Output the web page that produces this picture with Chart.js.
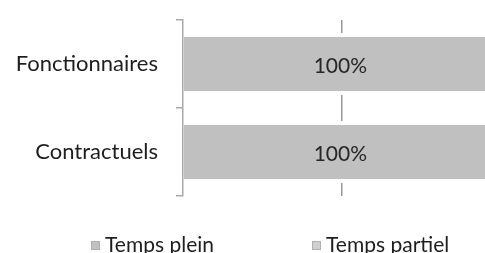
<!DOCTYPE html>
<html>
<head>
<meta charset="utf-8">
<script src="https://cdn.jsdelivr.net/npm/chart.js@4/dist/chart.umd.min.js"></script>
<style>
  html, body { margin: 0; padding: 0; background: #fff; overflow: hidden; }
  #wrap { position: relative; width: 520px; height: 253px; }
  #legend { position: absolute; left: 91px; top: 231px; display: flex; align-items: center;
            font-family: Lato, sans-serif; font-size: 21px; color: #1e1e1e; white-space: nowrap; }
  .item { display: flex; align-items: center; margin-right: 98px; }
  .box { width: 9px; height: 9px; margin-right: 5px; margin-top: 3px; }
</style>
</head>
<body>
<div id="wrap">
  <canvas id="c" width="520" height="253"></canvas>
  <div id="legend"></div>
</div>
<script>
const categories = ["Fonctionnaires", "Contractuels"];
const seriesNames = ["Temps plein", "Temps partiel"];
const tempsPlein = [100, 100];
const tempsPartiel = [0, 0];
const xTicks = [0, 50, 100];

Chart.defaults.font.family = "Lato, sans-serif";

const valueLabels = {
  id: "valueLabels",
  afterDatasetsDraw(chart) {
    const ctx = chart.ctx;
    ctx.save();
    ctx.font = "21px Lato, sans-serif";
    ctx.fillStyle = "#262626";
    ctx.textAlign = "center";
    ctx.textBaseline = "middle";
    chart.data.datasets.forEach((ds, di) => {
      const meta = chart.getDatasetMeta(di);
      meta.data.forEach((el, i) => {
        const v = ds.data[i];
        if (!v) return;
        const p = el.getCenterPoint();
        ctx.fillText(v + "%", p.x - 2, p.y + 2);
      });
    });
    ctx.restore();
  }
};

const chart = new Chart(document.getElementById("c"), {
  type: "bar",
  data: {
    labels: categories,
    datasets: [
      { label: seriesNames[0], data: tempsPlein, backgroundColor: "#c0c0c0",
        borderColor: "#ffffff", borderWidth: { top: 4, bottom: 4, left: 0, right: 0 }, borderSkipped: false,
        barPercentage: 0.705, categoryPercentage: 1 },
      { label: seriesNames[1], data: tempsPartiel, backgroundColor: "#d0d0d0",
        borderColor: "#ffffff", borderWidth: 0,
        barPercentage: 0.705, categoryPercentage: 1 }
    ]
  },
  options: {
    indexAxis: "y",
    responsive: false,
    animation: false,
    events: [],
    layout: { padding: { top: 20, right: 19, bottom: 57, left: 0 } },
    plugins: { legend: { display: false }, tooltip: { enabled: false } },
    scales: {
      x: {
        stacked: true, min: 0, max: 100,
        afterBuildTicks(scale) { scale.ticks = xTicks.map(v => ({ value: v })); },
        afterFit(scale) { scale.height = 0; scale.paddingLeft = 0; scale.paddingRight = 0; },
        ticks: { display: false },
        border: { display: false, dash: [] },
        grid: { drawTicks: false, lineWidth: 1.5,
                color: (c) => (c.tick && c.tick.value === 50) ? "#9a9a9a" : "rgba(0,0,0,0)" }
      },
      y: {
        stacked: true,
        afterFit(scale) { scale.width = 183; scale.paddingTop = 0; scale.paddingBottom = 0; },
        ticks: { color: "#1e1e1e", font: { size: 22 }, padding: 18 },
        border: { display: true, color: "#a8a8a8", width: 1.5 },
        grid: { offset: true, drawOnChartArea: false, drawTicks: true, tickLength: 7,
                color: "#a8a8a8", lineWidth: 1.5 }
      }
    }
  },
  plugins: [valueLabels]
});

const legend = document.getElementById("legend");
chart.data.datasets.forEach(ds => {
  const item = document.createElement("div");
  item.className = "item";
  const box = document.createElement("span");
  box.className = "box";
  box.style.background = ds.backgroundColor;
  box.style.border = "1px solid #b0b0b0";
  box.style.boxSizing = "border-box";
  const t = document.createElement("span");
  t.textContent = ds.label;
  item.appendChild(box);
  item.appendChild(t);
  legend.appendChild(item);
});
</script>
</body>
</html>
